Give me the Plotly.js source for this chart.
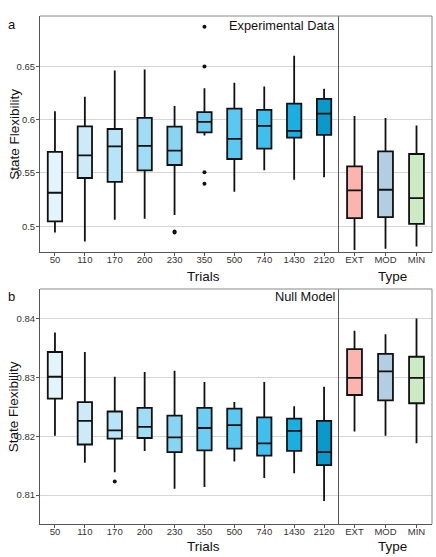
<!DOCTYPE html>
<html>
<head>
<meta charset="utf-8">
<script src="https://cdn.plot.ly/plotly-3.0.1.min.js"></script>
<style>body{margin:0;background:#fff}#chart{width:436px;height:557px}</style>
</head>
<body>
<div id="chart"></div>
<script>
// categories
var trials = ['50', '110', '170', '200', '230', '350', '500', '740', '1430', '2120'];
var types = ['EXT', 'MOD', 'MIN'];
var trialColors = ['#e3f4fc', '#cdeaf8', '#b7e4f6', '#9fdcf5', '#8ad4f3', '#6dcdf2', '#5ac8f0', '#3ec0ee', '#19afe3', '#0b98cb'];
var typeColors = ['#fbb4ae', '#b3cde3', '#ccebc5'];

// panel a: experimental data, box stats per trial count
var expLow = [0.4943, 0.4859, 0.5062, 0.5071, 0.5106, 0.5850, 0.5325, 0.5525, 0.5437, 0.5459];
var expQ1 = [0.5046, 0.5453, 0.5416, 0.5525, 0.5575, 0.5881, 0.5631, 0.5728, 0.5831, 0.5856];
var expMed = [0.5315, 0.5665, 0.5750, 0.5753, 0.5709, 0.5978, 0.5819, 0.5941, 0.5894, 0.6056];
var expQ3 = [0.5697, 0.5937, 0.5912, 0.6016, 0.5934, 0.6069, 0.6103, 0.6091, 0.6150, 0.6194];
var expHigh = [0.6078, 0.6213, 0.6460, 0.6469, 0.6128, 0.6294, 0.6344, 0.6310, 0.6597, 0.6288];
var expOutX = ['230', '230', '350', '350', '350', '350'];
var expOutY = [0.4953, 0.4942, 0.6870, 0.6497, 0.5506, 0.5400];

// panel a: by type
var expTypeLow = [0.4780, 0.4790, 0.4812];
var expTypeQ1 = [0.5078, 0.5087, 0.5024];
var expTypeMed = [0.5337, 0.5343, 0.5265];
var expTypeQ3 = [0.5562, 0.5703, 0.5678];
var expTypeHigh = [0.6034, 0.6016, 0.5944];

// panel b: null model
var nullLow = [0.8201, 0.8155, 0.8139, 0.8175, 0.8111, 0.8114, 0.8157, 0.8129, 0.8137, 0.8090];
var nullQ1 = [0.8264, 0.8186, 0.8196, 0.8197, 0.8173, 0.8176, 0.8179, 0.8167, 0.8175, 0.8151];
var nullMed = [0.8301, 0.8226, 0.8210, 0.8216, 0.8198, 0.8214, 0.8219, 0.8188, 0.8209, 0.8173];
var nullQ3 = [0.8343, 0.8258, 0.8242, 0.8248, 0.8235, 0.8248, 0.8247, 0.8232, 0.8230, 0.8226];
var nullHigh = [0.8376, 0.8343, 0.8301, 0.8309, 0.8311, 0.8292, 0.8258, 0.8292, 0.8251, 0.8284];
var nullOutX = ['170'];
var nullOutY = [0.8123];

var nullTypeLow = [0.8208, 0.8201, 0.8188];
var nullTypeQ1 = [0.8270, 0.8261, 0.8256];
var nullTypeMed = [0.8299, 0.8310, 0.8299];
var nullTypeQ3 = [0.8348, 0.8340, 0.8335];
var nullTypeHigh = [0.8379, 0.8373, 0.8400];

var data = [];

function addBoxes(cats, colors, low, q1, med, q3, high, xa, ya) {
  for (var i = 0; i < cats.length; i++) {
    data.push({
      type: 'box',
      x: [cats[i]],
      lowerfence: [low[i]],
      q1: [q1[i]],
      median: [med[i]],
      q3: [q3[i]],
      upperfence: [high[i]],
      fillcolor: colors[i],
      line: {color: '#111', width: 1.8},
      whiskerwidth: 0,
      width: 0.48,
      xaxis: xa,
      yaxis: ya,
      hoverinfo: 'skip'
    });
  }
}

addBoxes(trials, trialColors, expLow, expQ1, expMed, expQ3, expHigh, 'x', 'y');
addBoxes(types, typeColors, expTypeLow, expTypeQ1, expTypeMed, expTypeQ3, expTypeHigh, 'x2', 'y2');
addBoxes(trials, trialColors, nullLow, nullQ1, nullMed, nullQ3, nullHigh, 'x3', 'y3');
addBoxes(types, typeColors, nullTypeLow, nullTypeQ1, nullTypeMed, nullTypeQ3, nullTypeHigh, 'x4', 'y4');

data.push({type: 'scatter', mode: 'markers', x: expOutX, y: expOutY, xaxis: 'x', yaxis: 'y',
  marker: {color: '#111', size: 4}, hoverinfo: 'skip'});
data.push({type: 'scatter', mode: 'markers', x: nullOutX, y: nullOutY, xaxis: 'x3', yaxis: 'y3',
  marker: {color: '#111', size: 4}, hoverinfo: 'skip'});

var fam = 'Liberation Sans, Arial, sans-serif';
var tickFont = {family: fam, size: 9.5, color: '#333'};
var split = 0.7628;

function xAxis(cats, dom, anchor) {
  return {
    domain: dom, anchor: anchor, type: 'category',
    categoryorder: 'array', categoryarray: cats,
    range: [-0.5, cats.length - 0.5],
    showline: true, linecolor: '#555', linewidth: 1,
    ticks: 'outside', ticklen: 3, tickcolor: '#555',
    ticklabelstandoff: -4,
    tickfont: tickFont, showgrid: false, zeroline: false
  };
}

function yAxis(dom, anchor, range, dtick, showLabels) {
  return {
    domain: dom, anchor: anchor, range: range, dtick: dtick, tick0: 0,
    showline: true, linecolor: '#555', linewidth: 1,
    ticks: showLabels ? 'outside' : '', ticklen: 3, tickcolor: '#555',
    ticklabelstandoff: -1,
    showticklabels: showLabels, tickfont: tickFont,
    showgrid: true, gridcolor: '#d6d6d6', gridwidth: 1, zeroline: false
  };
}

var topDom = [0.5354, 1];
var botDom = [0, 0.4626];
var rangeA = [0.476, 0.697];
var rangeB = [0.8051, 0.845];

function label(text, x, y, size, anchor, angle) {
  return {text: text, xref: 'paper', yref: 'paper', x: x, y: y,
    xanchor: anchor, yanchor: 'middle', textangle: angle || 0,
    showarrow: false, font: {family: fam, size: size, color: '#111'}};
}

var layout = {
  width: 436, height: 557,
  margin: {l: 40, r: 4, t: 16, b: 33},
  paper_bgcolor: '#fff', plot_bgcolor: '#fff',
  showlegend: false, boxmode: 'overlay',
  xaxis: xAxis(trials, [0, split], 'y'),
  xaxis2: xAxis(types, [split, 1], 'y2'),
  xaxis3: xAxis(trials, [0, split], 'y3'),
  xaxis4: xAxis(types, [split, 1], 'y4'),
  yaxis: yAxis(topDom, 'x', rangeA, 0.05, true),
  yaxis2: yAxis(topDom, 'x2', rangeA, 0.05, false),
  yaxis3: yAxis(botDom, 'x3', rangeB, 0.01, true),
  yaxis4: yAxis(botDom, 'x4', rangeB, 0.01, false),
  shapes: [
    {type: 'line', xref: 'paper', yref: 'paper', x0: 0, x1: 1, y0: 1, y1: 1, line: {color: '#888', width: 1}},
    {type: 'line', xref: 'paper', yref: 'paper', x0: 1, x1: 1, y0: topDom[0], y1: 1, line: {color: '#888', width: 1}},
    {type: 'line', xref: 'paper', yref: 'paper', x0: 0, x1: 1, y0: botDom[1], y1: botDom[1], line: {color: '#888', width: 1}},
    {type: 'line', xref: 'paper', yref: 'paper', x0: 1, x1: 1, y0: 0, y1: botDom[1], line: {color: '#888', width: 1}}
  ],
  annotations: [
    label('a', -0.072, 0.984, 13, 'center'),
    label('b', -0.073, 0.447, 13, 'center'),
    label('Experimental Data', 0.757, 0.981, 12.8, 'right'),
    label('Null Model', 0.757, 0.447, 12.8, 'right'),
    label('Trials', 0.416, 0.488, 13.5, 'center'),
    label('Type', 0.898, 0.488, 13.5, 'center'),
    label('Trials', 0.416, -0.045, 13.5, 'center'),
    label('Type', 0.898, -0.045, 13.5, 'center'),
    label('State Flexibility', -0.067, 0.7677, 13.5, 'center', -90),
    label('State Flexibility', -0.067, 0.2313, 13.5, 'center', -90)
  ]
};

Plotly.newPlot('chart', data, layout, {displayModeBar: false, staticPlot: true});
</script>
</body>
</html>
